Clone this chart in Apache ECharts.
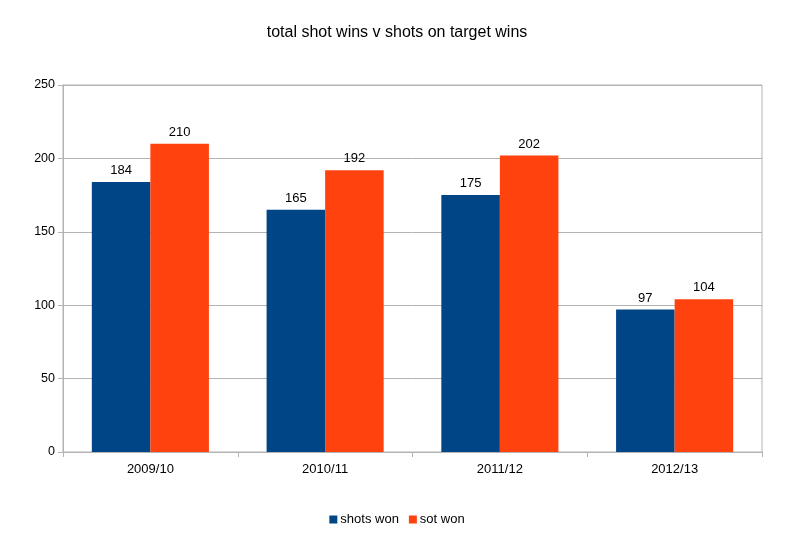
<!DOCTYPE html>
<html>
<head>
<meta charset="utf-8">
<script src="https://cdn.jsdelivr.net/npm/echarts@6/dist/echarts.min.js"></script>
<style>
  html, body { margin: 0; padding: 0; background: #fff; }
  #chart { width: 794px; height: 534px; }
</style>
</head>
<body>
<div id="chart"></div>
<script>
var seasons = ['2009/10', '2010/11', '2011/12', '2012/13'];
var shotsWon = [184, 165, 175, 97];
var sotWon = [210, 192, 202, 104];

var font = '"Liberation Sans", Arial, sans-serif';
var gray = '#b3b3b3';

var chart = echarts.init(document.getElementById('chart'));
chart.setOption({
    animation: false,
    textStyle: { fontFamily: font },
    title: {
        text: 'total shot wins v shots on target wins',
        left: 'center',
        top: 20,
        textStyle: { fontFamily: font, fontSize: 16, fontWeight: 'normal', color: '#000' }
    },
    legend: {
        top: 508,
        left: 'center',
        itemWidth: 8,
        itemHeight: 8,
        itemGap: 10,
        icon: 'rect',
        textStyle: { fontFamily: font, fontSize: 13, color: '#000', padding: [0, 0, 0, -2] },
        data: ['shots won', 'sot won']
    },
    grid: {
        left: 63, right: 32, top: 85, bottom: 82,
        show: true, borderColor: gray, borderWidth: 1
    },
    xAxis: {
        type: 'category',
        data: seasons,
        axisLine: { lineStyle: { color: gray } },
        axisTick: { show: true, length: 5, lineStyle: { color: gray } },
        axisLabel: { color: '#000', fontSize: 13, margin: 11 },
        splitLine: { show: false }
    },
    yAxis: {
        type: 'value',
        min: 0,
        max: 250,
        interval: 50,
        axisLine: { show: true, lineStyle: { color: gray } },
        axisTick: { show: true, length: 5, lineStyle: { color: gray } },
        axisLabel: { color: '#000', fontSize: 12.5, margin: 8 },
        splitLine: { lineStyle: { color: gray } }
    },
    series: [
        {
            name: 'shots won',
            type: 'bar',
            data: shotsWon,
            barGap: '0%',
            barCategoryGap: '33%',
            itemStyle: { color: '#004586' },
            label: { show: true, position: 'top', distance: 5, color: '#000', fontSize: 13 }
        },
        {
            name: 'sot won',
            type: 'bar',
            data: sotWon,
            barGap: '0%',
            barCategoryGap: '33%',
            itemStyle: { color: '#ff420e' },
            label: { show: true, position: 'top', distance: 5, color: '#000', fontSize: 13 }
        }
    ]
});
</script>
</body>
</html>
